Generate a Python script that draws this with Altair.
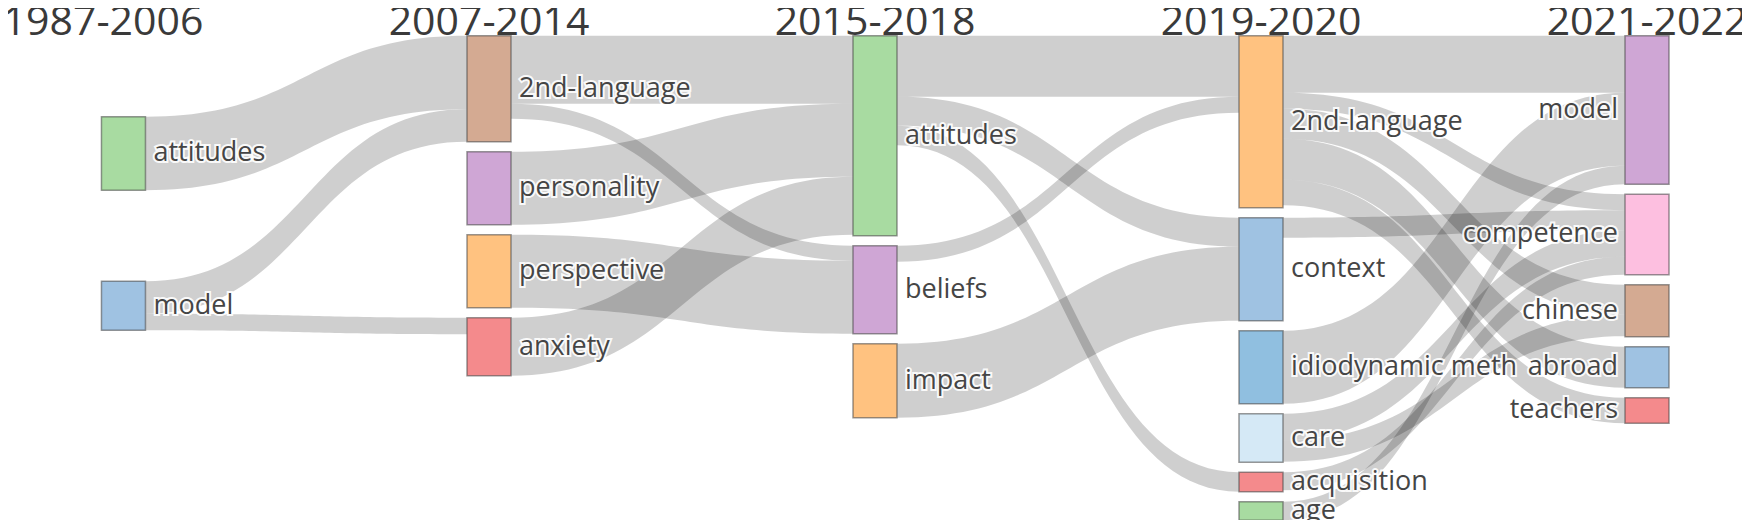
import altair as alt
import numpy as np
import pandas as pd

# ---------------- data ----------------
periods = ["1987-2006", "2007-2014", "2015-2018", "2019-2020", "2021-2022"]

p1_terms = ["attitudes", "model"]
p1_sizes = [73.5, 49]
p2_terms = ["2nd-language", "personality", "perspective", "anxiety"]
p2_sizes = [106, 73, 73, 58]
p3_terms = ["attitudes", "beliefs", "impact"]
p3_sizes = [200, 88, 74]
p4_terms = ["2nd-language", "context", "idiodynamic meth", "care", "acquisition", "age"]
p4_sizes = [172, 103, 73, 48.5, 19.5, 18.5]
p5_terms = ["model", "competence", "chinese", "abroad", "teachers"]
p5_sizes = [148.5, 80.5, 52, 41, 25.5]

links_12_from = ["attitudes", "model", "model"]
links_12_to = ["2nd-language", "2nd-language", "anxiety"]
links_12_val = [73.5, 32.5, 16.5]

links_23_from = ["2nd-language", "2nd-language", "personality", "perspective", "anxiety"]
links_23_to = ["attitudes", "beliefs", "attitudes", "beliefs", "attitudes"]
links_23_val = [68, 15, 73, 73, 58]

links_34_from = ["attitudes", "attitudes", "attitudes", "beliefs", "impact"]
links_34_to = ["2nd-language", "context", "acquisition", "2nd-language", "context"]
links_34_val = [61, 29, 19.5, 16, 74]

links_45_from = ["2nd-language", "2nd-language", "2nd-language", "2nd-language", "2nd-language",
                 "context", "idiodynamic meth", "care", "care", "acquisition", "age"]
links_45_to = ["model", "competence", "chinese", "abroad", "teachers",
               "competence", "model", "competence", "chinese", "competence", "model"]
links_45_val = [57, 16, 30, 41, 25.5, 20, 73, 26.5, 21.5, 18, 18.5]

# node colours (style), in node order
node_colors = [
    "#a8dba1", "#9fc2e2",
    "#d4aa92", "#cfa6d5", "#ffc280", "#f48a8c",
    "#a8dba1", "#cfa6d5", "#ffc280",
    "#ffc280", "#9fc2e2", "#90bfe0", "#d5e9f6", "#f48a8c", "#a8dba1",
    "#cfa6d5", "#fdbfe0", "#d4aa92", "#9fc2e2", "#f48a8c",
]

# ---------------- sankey layout (computed from the values) ----------------
NODE_PAD = 10
FIRST_COL_SPACE = 81
FIRST_COL_SHIFT = 0.053
HALF_W = 0.057

cols_terms = [p1_terms, p2_terms, p3_terms, p4_terms, p5_terms]
cols_sizes = [p1_sizes, p2_sizes, p3_sizes, p4_sizes, p5_sizes]

node_rows = []
for k, (terms, sizes) in enumerate(zip(cols_terms, cols_sizes)):
    y = 0.0
    cx = k + (FIRST_COL_SHIFT if k == 0 else 0.0)
    for term, size in zip(terms, sizes):
        if k == 0:
            y += FIRST_COL_SPACE
        node_rows.append(dict(id=f"{k}|{term}", term=term, col=k, top=y, bottom=y + size,
                              mid=y + size / 2, xl=cx - HALF_W, xr=cx + HALF_W))
        y += size + NODE_PAD
nodes = pd.DataFrame(node_rows)
node_by_id = {r["id"]: r for r in node_rows}

stages = [(links_12_from, links_12_to, links_12_val),
          (links_23_from, links_23_to, links_23_val),
          (links_34_from, links_34_to, links_34_val),
          (links_45_from, links_45_to, links_45_val)]

link_rows = []
for k, (fr, to, val) in enumerate(stages):
    lk = [dict(s=f"{k}|{a}", t=f"{k+1}|{b}", v=v) for a, b, v in zip(fr, to, val)]
    # outgoing offsets sorted by target position
    out_off = {}
    for s in set(l["s"] for l in lk):
        off = node_by_id[s]["top"]
        for l in sorted([l for l in lk if l["s"] == s], key=lambda l: node_by_id[l["t"]]["top"]):
            l["y0"] = off
            off += l["v"]
    for t in set(l["t"] for l in lk):
        off = node_by_id[t]["top"]
        for l in sorted([l for l in lk if l["t"] == t], key=lambda l: node_by_id[l["s"]]["top"]):
            l["y1"] = off
            off += l["v"]
    for j, l in enumerate(lk):
        x0 = node_by_id[l["s"]]["xr"]
        x1 = node_by_id[l["t"]]["xl"]
        ts = np.linspace(0, 1, 48)
        xs = x0 + (x1 - x0) * (1.5 * ts * (1 - ts) + ts ** 3)
        ytop = l["y0"] + (l["y1"] - l["y0"]) * (3 * ts ** 2 - 2 * ts ** 3)
        for xx, yy in zip(xs, ytop):
            link_rows.append(dict(link=f"{k}-{j}", x=xx, y_top=yy, y_bot=yy + l["v"]))
links = pd.DataFrame(link_rows)

titles = pd.DataFrame({"period": periods, "k": list(range(len(periods)))})
titles["ty"] = -0.7

# ---------------- chart ----------------
TOP = 27.7
H = 512
W = 1734
x_scale = alt.Scale(domain=[-95 / 386, (W - 95) / 386], nice=False, zero=False)
y_scale = alt.Scale(domain=[-TOP, H - TOP], reverse=True, nice=False, zero=False)
FONT = "Open Sans"

link_layer = alt.Chart(links).mark_area(
    color="black", fillOpacity=0.19, orient="vertical", interpolate="linear", strokeWidth=0
).encode(
    x=alt.X("x:Q", scale=x_scale, axis=None),
    y=alt.Y("y_top:Q", scale=y_scale, axis=None),
    y2="y_bot:Q",
    detail="link:N",
)

node_layer = alt.Chart(nodes).mark_rect(
    stroke="#444444", strokeOpacity=0.55, strokeWidth=1.5
).encode(
    x=alt.X("xl:Q", scale=x_scale, axis=None),
    x2="xr:Q",
    y=alt.Y("top:Q", scale=y_scale, axis=None),
    y2="bottom:Q",
    color=alt.Color("id:N", scale=alt.Scale(domain=list(nodes["id"]), range=node_colors), legend=None),
)

inner = alt.Chart(nodes).transform_filter("datum.col < 4")
outer = alt.Chart(nodes).transform_filter("datum.col == 4")

def label_layers(base, xfield, align, dx):
    enc = dict(x=alt.X(f"{xfield}:Q", scale=x_scale, axis=None),
               y=alt.Y("mid:Q", scale=y_scale, axis=None), text="term:N")
    halo = base.mark_text(font=FONT, fontSize=27, align=align, baseline="middle", dx=dx,
                          fill="white", stroke="white", strokeWidth=4, strokeOpacity=0.9).encode(**enc)
    txt = base.mark_text(font=FONT, fontSize=27, align=align, baseline="middle", dx=dx,
                         color="#454545").encode(**enc)
    return [halo, txt]

title_layer = alt.Chart(titles).mark_text(
    font=FONT, fontSize=41, align="center", baseline="alphabetic", color="#3a3a3a"
).encode(
    x=alt.X("k:Q", scale=x_scale, axis=None),
    y=alt.Y("ty:Q", scale=y_scale, axis=None),
    text="period:N",
)

chart = alt.layer(
    link_layer, node_layer,
    *label_layers(inner, "xr", "left", 8),
    *label_layers(outer, "xl", "right", -7),
    title_layer,
).properties(
    width=W, height=H, padding=0, autosize=alt.AutoSizeParams(type="none")
).configure_view(stroke=None)

chart.save("out.html", embed_options={"renderer": "svg", "actions": False})
